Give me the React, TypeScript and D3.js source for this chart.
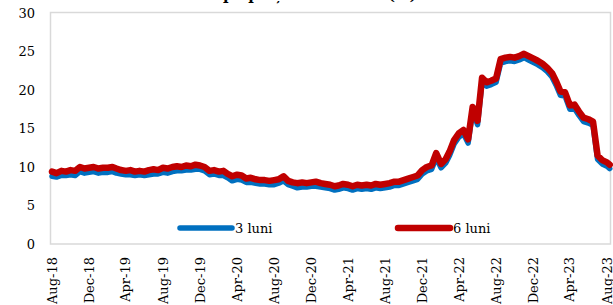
import React from "react";
import * as d3 from "d3";

const dates: string[] = [
  "2018-08-01","2018-08-16","2018-09-01","2018-09-16","2018-10-01","2018-10-16","2018-11-01","2018-11-16","2018-12-01","2018-12-16",
  "2019-01-01","2019-01-16","2019-02-01","2019-02-16","2019-03-01","2019-03-16","2019-04-01","2019-04-16","2019-05-01","2019-05-16",
  "2019-06-01","2019-06-16","2019-07-01","2019-07-16","2019-08-01","2019-08-16","2019-09-01","2019-09-16","2019-10-01","2019-10-16",
  "2019-11-01","2019-11-16","2019-12-01","2019-12-16","2020-01-01","2020-01-16","2020-02-01","2020-02-16","2020-03-01","2020-03-16",
  "2020-04-01","2020-04-16","2020-05-01","2020-05-16","2020-06-01","2020-06-16","2020-07-01","2020-07-16","2020-08-01","2020-08-16",
  "2020-09-01","2020-09-16","2020-10-01","2020-10-16","2020-11-01","2020-11-16","2020-12-01","2020-12-16","2021-01-01","2021-01-16",
  "2021-02-01","2021-02-16","2021-03-01","2021-03-16","2021-04-01","2021-04-16","2021-05-01","2021-05-16","2021-06-01","2021-06-16",
  "2021-07-01","2021-07-16","2021-08-01","2021-08-16","2021-09-01","2021-09-16","2021-10-01","2021-10-16","2021-11-01","2021-11-16",
  "2021-12-01","2021-12-16","2022-01-01","2022-01-16","2022-02-01","2022-02-16","2022-03-01","2022-03-16","2022-04-01","2022-04-16",
  "2022-05-01","2022-05-16","2022-06-01","2022-06-16","2022-07-01","2022-07-16","2022-08-01","2022-08-16","2022-09-01","2022-09-16",
  "2022-10-01","2022-10-16","2022-11-01","2022-11-16","2022-12-01","2022-12-16","2023-01-01","2023-01-16","2023-02-01","2023-02-16",
  "2023-03-01","2023-03-16","2023-04-01","2023-04-16","2023-05-01","2023-05-16","2023-06-01","2023-06-16","2023-07-01","2023-07-16",
  "2023-08-01","2023-08-10",
];

const luni3: number[] = [
  8.8, 8.7, 8.9, 8.9, 9.0, 8.9, 9.4, 9.2, 9.3, 9.4,
  9.2, 9.3, 9.3, 9.4, 9.2, 9.1, 9.0, 9.0, 8.9, 9.0,
  8.9, 9.0, 9.1, 9.1, 9.3, 9.2, 9.4, 9.5, 9.5, 9.6,
  9.6, 9.7, 9.7, 9.5, 9.0, 9.1, 8.9, 8.9, 8.6, 8.2,
  8.4, 8.3, 8.0, 8.0, 7.9, 7.8, 7.8, 7.7, 7.7, 7.9,
  8.2, 7.7, 7.5, 7.3, 7.4, 7.4, 7.5, 7.5, 7.4, 7.3,
  7.2, 7.0, 7.1, 7.3, 7.2, 7.0, 7.2, 7.1, 7.2, 7.1,
  7.3, 7.2, 7.3, 7.4, 7.6, 7.6, 7.8, 8.0, 8.2, 8.4,
  9.1, 9.5, 9.7, 11.2, 9.9, 10.5, 11.5, 13.0, 13.9, 14.3,
  13.1, 17.3, 15.5, 21.1, 20.5, 20.7, 21.0, 23.5, 23.7, 23.8,
  23.7, 23.9, 24.2, 23.9, 23.6, 23.3, 22.9, 22.4, 21.7, 20.5,
  19.3, 19.2, 17.5, 17.6, 16.7, 15.9, 15.7, 15.4, 11.0, 10.4,
  10.1, 9.8,
];

const luni6: number[] = [
  9.4, 9.2, 9.5, 9.4, 9.6, 9.5, 10.0, 9.8, 9.9, 10.0,
  9.8, 9.9, 9.9, 10.0, 9.8, 9.6, 9.5, 9.6, 9.4, 9.5,
  9.4, 9.6, 9.7, 9.6, 9.9, 9.8, 10.0, 10.1, 10.0, 10.2,
  10.1, 10.3, 10.2, 10.0, 9.5, 9.6, 9.4, 9.5, 9.1, 8.8,
  9.0, 8.9, 8.5, 8.6, 8.4, 8.3, 8.3, 8.2, 8.3, 8.4,
  8.8, 8.2, 8.0, 7.9, 8.0, 7.9, 8.0, 8.1, 7.9, 7.8,
  7.7, 7.5, 7.6, 7.8, 7.7, 7.5, 7.7, 7.6, 7.7, 7.6,
  7.8, 7.7, 7.8, 7.9, 8.1, 8.1, 8.3, 8.5, 8.7, 8.9,
  9.6, 10.0, 10.2, 11.8, 10.4, 11.0, 12.0, 13.5, 14.4, 14.8,
  13.6, 17.8, 16.0, 21.6, 21.0, 21.2, 21.5, 24.0, 24.2, 24.3,
  24.2, 24.4, 24.7, 24.4, 24.1, 23.8, 23.4, 22.9, 22.2, 21.0,
  19.8, 19.7, 18.0, 18.1, 17.2, 16.4, 16.2, 15.9, 11.5, 10.9,
  10.6, 10.3,
];

const yTicks: number[] = [0, 5, 10, 15, 20, 25, 30];
const xTickLabels: string[] = [
  "Aug-18","Dec-18","Apr-19","Aug-19","Dec-19","Apr-20","Aug-20","Dec-20",
  "Apr-21","Aug-21","Dec-21","Apr-22","Aug-22","Dec-22","Apr-23","Aug-23",
];
const seriesNames: string[] = ["3 luni", "6 luni"];
const title = "Randamentul VMS pe piața secundară (%)";

const W = 613, H = 305;
const FONT = "'DejaVu Serif', serif";

export default function App() {
  const parse = d3.timeParse("%Y-%m-%d");
  const parseTick = d3.timeParse("%b-%y");
  const xs = dates.map((d) => parse(d) as Date);
  const x = d3.scaleTime()
    .domain([new Date(2018, 7, 1), new Date(2023, 7, 1)])
    .range([52, 607]);
  const y = d3.scaleLinear().domain([0, 30]).range([244, 13]);
  const line = d3.line<number>()
    .x((_, i) => x(xs[i]))
    .y((v) => y(v))
    .curve(d3.curveLinear);

  const tickDates = xTickLabels.map((l) => parseTick(l) as Date);

  return (
    <svg width={W} height={H} style={{ position: "absolute", left: 0, top: 0, background: "#fff" }}
      fontFamily={FONT}>
      <text x={60} y={-0.5} fontSize={15} fontWeight="bold" fill="#000">{title}</text>
      <rect x={50.5} y={12.5} width={560} height={231.5} fill="none" stroke="#d9d9d9" strokeWidth={1.5} />
      {yTicks.map((t) => (
        <text key={t} x={35} y={y(t)} dy="0.35em" textAnchor="end" fontSize={13} fill="#000">{t}</text>
      ))}
      {tickDates.map((d, i) => (
        <text key={i} transform={`translate(${x(d)},257) rotate(-90)`} dy="0.35em" textAnchor="end"
          fontSize={13} fill="#000">{xTickLabels[i]}</text>
      ))}
      <path d={line(luni3) || ""} fill="none" stroke="#0070C0" strokeWidth={5.5} strokeLinejoin="round" strokeLinecap="round" />
      <path d={line(luni6) || ""} fill="none" stroke="#C00000" strokeWidth={6.5} strokeLinejoin="round" strokeLinecap="round" />
      <line x1={180} x2={232} y1={228} y2={228} stroke="#0070C0" strokeWidth={5.5} strokeLinecap="round" />
      <text x={235} y={232.5} fontSize={13} fill="#000">{seriesNames[0]}</text>
      <line x1={398} x2={450} y1={228} y2={228} stroke="#C00000" strokeWidth={6.5} strokeLinecap="round" />
      <text x={453} y={232.5} fontSize={13} fill="#000">{seriesNames[1]}</text>
    </svg>
  );
}
